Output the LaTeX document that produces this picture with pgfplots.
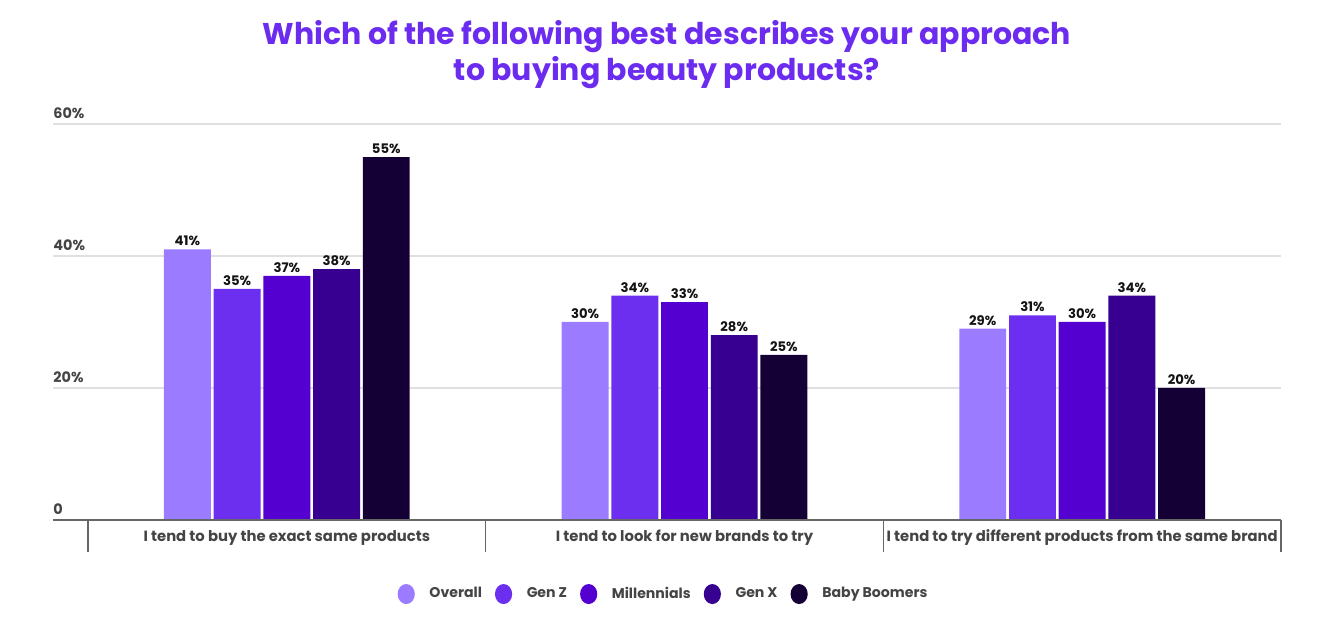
\documentclass[border=0pt]{standalone}
\usepackage{pgfplots}
\pgfplotsset{compat=1.18}
\usepackage{fontspec}
\setmainfont{Poppins}
\definecolor{cOverall}{HTML}{9B7BFF}
\definecolor{cGenZ}{HTML}{6C2FF0}
\definecolor{cMill}{HTML}{5400D0}
\definecolor{cGenX}{HTML}{370090}
\definecolor{cBoom}{HTML}{150036}
\definecolor{cTitle}{HTML}{6B2CF0}
\definecolor{cText}{HTML}{444444}
\begin{document}
\begin{tikzpicture}
\path[use as bounding box] (-26.5pt,-52pt) rectangle (642.5pt,260pt);
\begin{axis}[
  at={(0,0)}, anchor=south west,
  width=614pt, height=198pt, scale only axis,
  xmin=-0.588, xmax=2.5, ymin=0, ymax=60,
  clip=false,
  axis line style={draw=none},
  major tick length=0pt,
  /pgf/number format/assume math mode=true,
  ytick={0,20,40,60}, yticklabels={0,20\%,40\%,60\%},
  yticklabel style={anchor=south west, inner sep=0pt, yshift=2.5pt,
    font=\bfseries\fontsize{7.2}{8}\selectfont, text=cText},
  xtick={0,1,2},
  xticklabels={I tend to buy the exact same products,I tend to look for new brands to try,I tend to try different products from the same brand},
  xticklabel style={anchor=base, inner sep=0pt, yshift=-11pt,
    font=\bfseries\fontsize{7.4}{8}\selectfont, text=cText},
  ymajorgrids, grid style={draw=black!12, line width=0.6pt},
  ybar, bar width=0.118,
  nodes near coords={\pgfmathprintnumber{\pgfplotspointmeta}\%},
  nodes near coords style={font=\bfseries\fontsize{6.6}{7}\selectfont, text=black!92, inner sep=1.5pt},
  legend columns=5,
  legend style={at={(0.498,-0.187)}, anchor=center, draw=none,
    font=\bfseries\fontsize{7.05}{8}\selectfont, text=cText,
    /tikz/every even column/.append style={column sep=4.5pt}},
  circleleg/.style={legend image code/.code={\fill[##1] (0pt,0) ellipse [x radius=4.3pt, y radius=5pt]; \path (9.6pt,0);}},
]
\addplot[fill=cOverall, draw=none, bar shift=-0.25, circleleg] coordinates {(0,41) (1,30) (2,29)};
\addplot[fill=cGenZ, draw=none, bar shift=-0.125, circleleg] coordinates {(0,35) (1,34) (2,31)};
\addplot[fill=cMill, draw=none, bar shift=0, circleleg] coordinates {(0,37) (1,33) (2,30)};
\addplot[fill=cGenX, draw=none, bar shift=0.125, circleleg] coordinates {(0,38) (1,28) (2,34)};
\addplot[fill=cBoom, draw=none, bar shift=0.25, circleleg] coordinates {(0,55) (1,25) (2,20)};
\legend{Overall,Gen Z,Millennials,Gen X,Baby Boomers}
\draw[draw=black!60, line width=1pt] (rel axis cs:0,0) -- (rel axis cs:1,0);
\draw[draw=black!60, line width=0.8pt] (axis cs:-0.5,0) -- (axis cs:-0.5,-4.85);
\draw[draw=black!60, line width=0.8pt] (axis cs:0.5,0) -- (axis cs:0.5,-4.85);
\draw[draw=black!60, line width=0.8pt] (axis cs:1.5,0) -- (axis cs:1.5,-4.85);
\draw[draw=black!60, line width=0.8pt] (axis cs:2.5,0) -- (axis cs:2.5,-4.85);
\end{axis}
\node[align=center, text=cTitle, font=\bfseries\fontsize{15}{18}\selectfont] at (307pt,232.5pt) {Which of the following best describes your approach\\to buying beauty products?};
\end{tikzpicture}
\end{document}
